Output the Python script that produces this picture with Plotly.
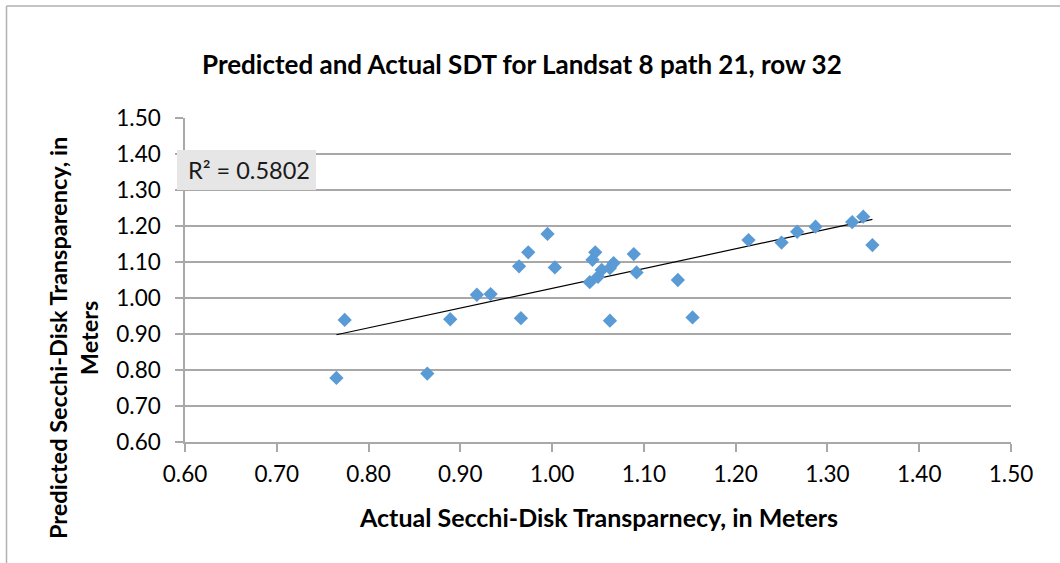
import numpy as np
import plotly.graph_objects as go

# Actual vs predicted Secchi-disk transparency (meters)
actual = [0.765, 0.774, 0.864, 0.889, 0.918, 0.933, 0.964, 0.974, 0.995, 1.003,
          0.966, 1.041, 1.044, 1.047, 1.050, 1.054, 1.063, 1.067, 1.063, 1.089,
          1.092, 1.137, 1.153, 1.214, 1.250, 1.267, 1.287, 1.327, 1.339, 1.349]
predicted = [0.778, 0.939, 0.790, 0.941, 1.009, 1.011, 1.088, 1.127, 1.178, 1.085,
             0.944, 1.044, 1.106, 1.127, 1.059, 1.078, 1.083, 1.097, 0.937, 1.122,
             1.071, 1.050, 0.946, 1.161, 1.154, 1.184, 1.198, 1.211, 1.226, 1.147]
tick_vals = [0.6, 0.7, 0.8, 0.9, 1.0, 1.1, 1.2, 1.3, 1.4, 1.5]
tick_text = ["0.60", "0.70", "0.80", "0.90", "1.00", "1.10", "1.20", "1.30", "1.40", "1.50"]
r2_label = "R² = 0.5802"

title = "Predicted and Actual SDT for Landsat 8 path 21, row 32"
x_title = "Actual Secchi-Disk Transparnecy, in Meters"
y_title = "Predicted Secchi-Disk Transparency, in<br>Meters"

# linear trendline (least squares)
slope, intercept = np.polyfit(actual, predicted, 1)
tx = [min(actual), max(actual)]
ty = [slope * v + intercept for v in tx]

W, H = 1060, 563
L, R, T, B = 185, 49, 118, 121
pw, ph = W - L - R, H - T - B

def px(x):
    return (x - L) / pw

def py(y):
    return (H - B - y) / ph

FONT = "Lato"
grid = "#a8a8a8"

fig = go.Figure()
fig.add_trace(go.Scatter(x=tx, y=ty, mode="lines",
                         line=dict(color="black", width=1.2),
                         hoverinfo="skip", showlegend=False))
fig.add_trace(go.Scatter(x=actual, y=predicted, mode="markers",
                         marker=dict(symbol="diamond", size=11, color="#5b9bd5",
                                     line=dict(width=0)),
                         showlegend=False))

fig.update_layout(
    width=W, height=H,
    margin=dict(l=L, r=R, t=T, b=B),
    paper_bgcolor="white", plot_bgcolor="white",
    font=dict(family=FONT, size=22, color="#000000"),
    xaxis=dict(range=[0.6, 1.5], tickvals=tick_vals, ticktext=tick_text,
               showgrid=False, zeroline=False, showline=True, linecolor=grid,
               linewidth=1.5, ticks="outside", ticklen=8, tickcolor=grid,
               tickwidth=1.5,
               tickfont=dict(family=FONT, size=22.5), ticklabelstandoff=3),
    yaxis=dict(range=[0.6, 1.5], tickvals=tick_vals, ticktext=tick_text,
               showgrid=True, gridcolor=grid, gridwidth=1.5, zeroline=False,
               showline=True, linecolor=grid, linewidth=1.5,
               ticks="outside", ticklen=8, tickcolor=grid, tickwidth=1.5,
               tickfont=dict(family=FONT, size=22.5), ticklabelstandoff=10),
    shapes=[
        dict(type="line", xref="paper", yref="paper",
             x0=px(6.5), x1=px(W + 5), y0=py(6), y1=py(6),
             line=dict(color="#b0b0b0", width=1.5)),
        dict(type="line", xref="paper", yref="paper",
             x0=px(6.5), x1=px(6.5), y0=py(6), y1=py(H + 5),
             line=dict(color="#b0b0b0", width=1.5)),
        dict(type="rect", xref="paper", yref="paper",
             x0=px(177), x1=px(316), y0=py(150), y1=py(190),
             fillcolor="#e6e6e6", line=dict(width=0), layer="above"),
    ],
    annotations=[
        dict(text="<b>" + title + "</b>", xref="paper", yref="paper",
             x=px(522), y=py(64), showarrow=False, xanchor="center", yanchor="middle",
             font=dict(family=FONT, size=26)),
        dict(text="<b>" + x_title + "</b>", xref="paper", yref="paper",
             x=px(598), y=py(517), showarrow=False, xanchor="center", yanchor="middle",
             font=dict(family=FONT, size=25)),
        dict(text="<b>" + y_title + "</b>", xref="paper", yref="paper",
             x=px(73), y=py(338), showarrow=False, xanchor="center", yanchor="middle",
             textangle=-90, font=dict(family=FONT, size=23.5)),
        dict(text=r2_label, xref="paper", yref="paper",
             x=px(186), y=py(170), showarrow=False, xanchor="left", yanchor="middle",
             font=dict(family=FONT, size=23.5, color="#1a1a1a")),
    ],
)

fig.write_html("out.html", config={"displayModeBar": False},
               post_script="document.body.style.margin='0';")
